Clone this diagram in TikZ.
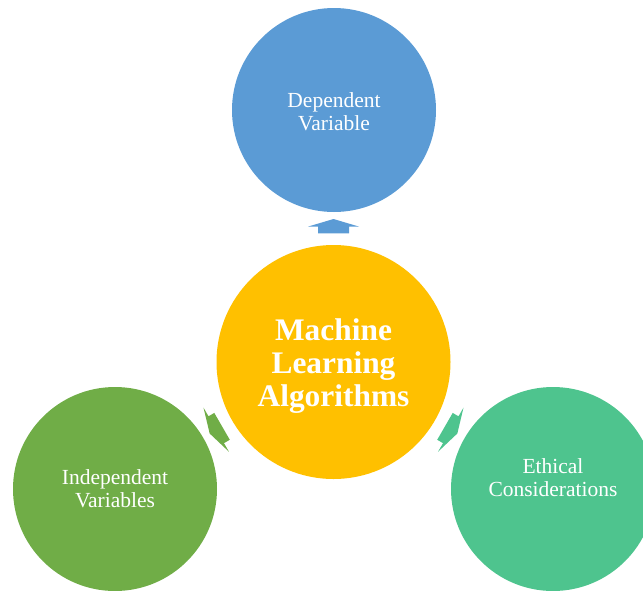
\documentclass[tikz,border=0pt]{standalone}
\usepackage{fontspec}
\setmainfont{Liberation Serif}
\definecolor{depblue}{RGB}{91,155,213}
\definecolor{mlgold}{RGB}{255,192,0}
\definecolor{indgreen}{RGB}{112,173,71}
\definecolor{ethteal}{RGB}{78,196,142}
\tikzset{
  bubble/.style={circle, inner sep=0pt, minimum size=204pt},
  bubbletext/.style={text=white, align=center, font=\fontsize{21.5}{23}\selectfont},
}
\begin{document}
\begin{tikzpicture}[x=1pt,y=-1pt]
\useasboundingbox (0,0) rectangle (643,590);
\clip (0,0) rectangle (643,590);

% circles
\node[bubble, fill=mlgold, minimum size=234pt] (ml) at (333.5,362) {};
\node[bubble, fill=depblue] (dep) at (334,110) {};
\node[bubble, fill=indgreen] (ind) at (115,489) {};
\node[bubble, fill=ethteal] (eth) at (553,489) {};

% texts
\node[bubbletext, font=\fontsize{31.4}{33}\selectfont\bfseries, yshift=-4pt] (mltext) at (ml.center) {Machine\\Learning\\Algorithms};
\node[bubbletext, yshift=-1.5pt] (deptext) at (dep.center) {Dependent\\Variable};
\node[bubbletext] (indtext) at (ind.center) {Independent\\Variables};
\node[bubbletext, yshift=11pt] (ethtext) at (eth.center) {Ethical\\Considerations};

% arrows
\foreach \ang/\col in {0/depblue, 120/indgreen, -120/ethteal}
  \fill[\col, shift={(ml.center)}, rotate=\ang]
    (-15.5,-128.7) -- (-15.5,-135.4) -- (-25.5,-135.4) -- (0,-143)
    -- (25.5,-135.4) -- (15.5,-135.4) -- (15.5,-128.7) -- cycle;

\end{tikzpicture}
\end{document}
